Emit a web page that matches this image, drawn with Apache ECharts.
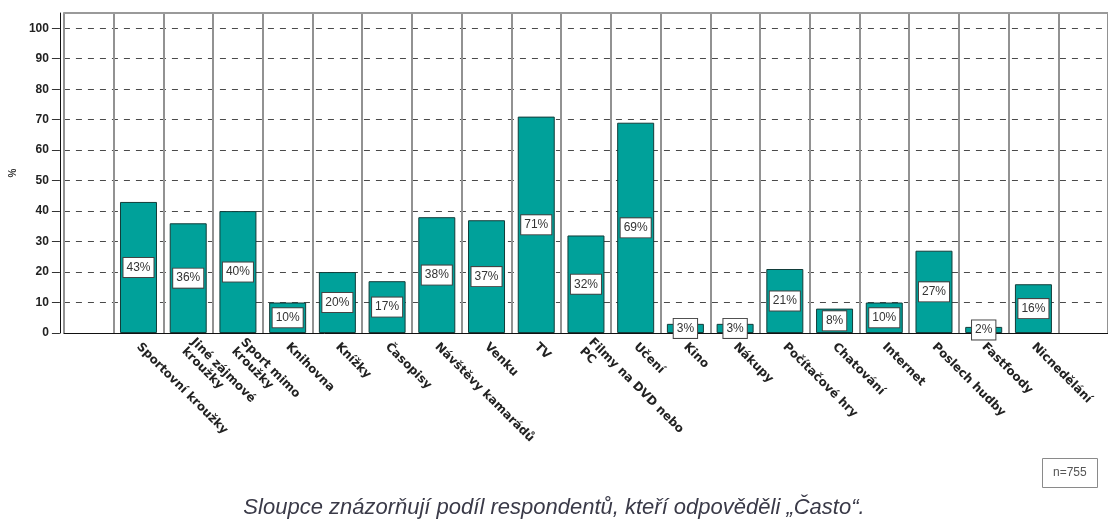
<!DOCTYPE html>
<html>
<head>
<meta charset="utf-8">
<script src="https://cdn.jsdelivr.net/npm/echarts@6/dist/echarts.min.js"></script>
<style>
  html, body { margin: 0; padding: 0; background: #fff; }
  #cn { width: 1108px; height: 520px; }
</style>
</head>
<body>
<div id="cn"></div>
<script>
'use strict';

// prázdná kategorie na začátku a na konci (jako v originále)
const arrCategory = ['', 'Sportovní kroužky', 'Jiné zájmové\nkroužky', 'Sport mimo\nkroužky', 'Knihovna', 'Knížky',
    'Časopisy', 'Návštěvy kamarádů', 'Venku', 'TV', 'Filmy na DVD nebo\nPC', 'Učení', 'Kino', 'Nákupy',
    'Počítačové hry', 'Chatování', 'Internet', 'Poslech hudby', 'Fastfoody', 'Nicnedělání', ''];
const arrValue = [null, 43, 36, 40, 10, 20, 17, 38, 37, 71, 32, 69, 3, 3, 21, 8, 10, 27, 2, 16, null];
const arrYTicks = [0, 10, 20, 30, 40, 50, 60, 70, 80, 90, 100];

const strCaption = 'Sloupce znázorňují podíl respondentů, kteří odpověděli „Často“.';
const strN = 'n=755';

const chart = echarts.init(document.getElementById('cn'), null, { renderer: 'canvas' });

const option = {
    animation: false,
    title: [{
            text: strCaption,
            left: 'center',
            top: 492,
            padding: 5,
            textStyle: {
                fontFamily: 'Liberation Sans',
                fontStyle: 'italic',
                fontWeight: 'normal',
                fontSize: 22,
                color: '#3a3a48'
            }
        },
        {
            text: strN,
            left: 1042,
            top: 458,
            padding: [9, 11],
            borderColor: '#8a8a8a',
            borderWidth: 1,
            textStyle: {
                fontFamily: 'Liberation Sans',
                fontWeight: 'normal',
                fontSize: 12,
                color: '#555'
            }
        }
    ],
    grid: {
        left: 60,
        top: 13,
        width: 1052,
        height: 320,
        containLabel: false
    },
    xAxis: [{
            type: 'category',
            data: arrCategory,
            boundaryGap: true,
            axisLine: {
                lineStyle: { color: '#111', width: 1 }
            },
            axisTick: {
                alignWithLabel: true,
                length: 7,
                interval: (i, v) => v !== '',
                lineStyle: { color: '#333' }
            },
            axisLabel: {
                interval: 0,
                rotate: -45,
                margin: 12,
                fontFamily: 'DejaVu Sans',
                fontWeight: 'bold',
                fontSize: 12,
                lineHeight: 13,
                color: '#222'
            },
            splitLine: {
                show: true,
                interval: 0,
                lineStyle: { color: '#929292', width: 2 }
            }
        },
        {
            // horní okraj
            type: 'category',
            position: 'top',
            data: arrCategory,
            axisLine: { lineStyle: { color: '#9a9a9a', width: 2 } },
            axisTick: { show: false },
            axisLabel: { show: false }
        }
    ],
    yAxis: {
        type: 'value',
        min: 0,
        max: 105,
        offset: 4,
        name: '%',
        nameLocation: 'middle',
        nameGap: 40,
        nameRotate: 90,
        nameTextStyle: {
            fontFamily: 'Liberation Sans',
            fontWeight: 'bold',
            fontSize: 10,
            color: '#333'
        },
        axisLine: {
            show: true,
            lineStyle: { color: '#111', width: 1 }
        },
        axisTick: {
            show: true,
            length: 8,
            customValues: arrYTicks,
            lineStyle: { color: '#333' }
        },
        axisLabel: {
            customValues: arrYTicks,
            margin: 11,
            fontFamily: 'Liberation Sans',
            fontWeight: 'bold',
            fontSize: 12,
            color: '#222'
        },
        splitLine: {
            show: true,
            lineStyle: { color: '#4a4a4a', type: [6, 6], width: 1 }
        }
    },
    series: [{
        name: 'Často',
        type: 'bar',
        data: arrValue,
        barWidth: 37,
        itemStyle: {
            color: '#00A19A',
            borderColor: '#123d3a',
            borderWidth: 1
        },
        label: {
            show: true,
            position: 'inside',
            formatter: (p) => `${p.value}%`,
            fontFamily: 'Liberation Sans',
            fontSize: 12,
            color: '#333',
            backgroundColor: '#fff',
            borderColor: '#444',
            borderWidth: 1,
            padding: [4, 3, 3, 3]
        }
    }]
};

chart.setOption(option);
</script>
</body>
</html>
